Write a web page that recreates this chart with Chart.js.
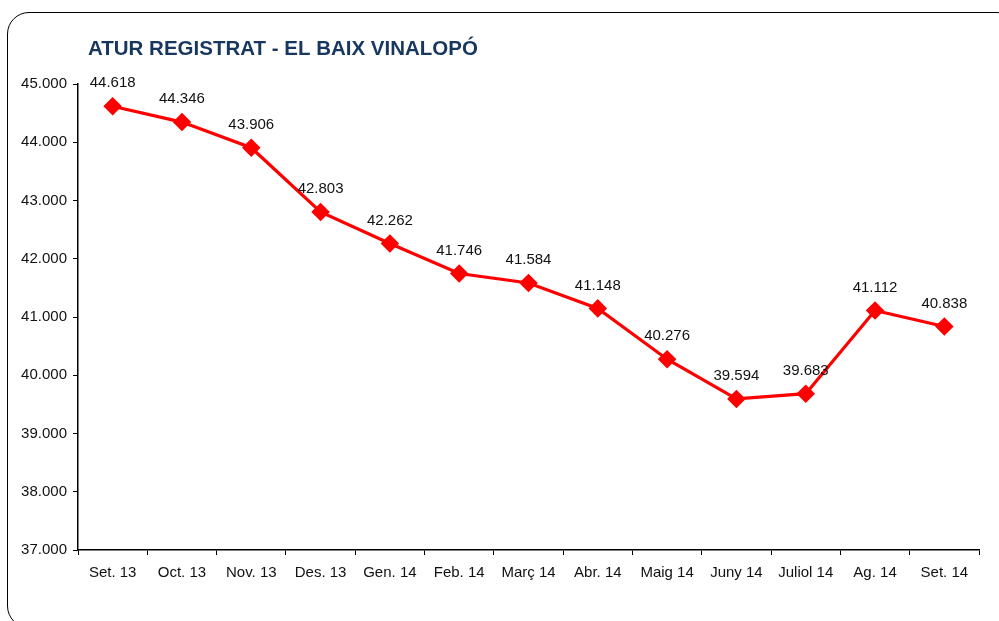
<!DOCTYPE html>
<html>
<head>
<meta charset="utf-8">
<script src="https://cdn.jsdelivr.net/npm/chart.js@4/dist/chart.umd.min.js"></script>
<style>
  html, body { margin: 0; padding: 0; background: #fff; overflow: hidden; }
  #wrap { position: relative; width: 999px; height: 621px; overflow: hidden; }
  #frame {
    position: absolute; left: 7px; top: 12px; width: 1012px; height: 616px;
    border: 1.5px solid #000; border-radius: 22px; box-sizing: border-box;
  }
  #c { position: absolute; left: 0; top: 0; }
</style>
</head>
<body>
<div id="wrap">
  <div id="frame"></div>
  <canvas id="c" width="999" height="621"></canvas>
</div>
<script>
// Monthly registered unemployment, El Baix Vinalopó
const titleText = 'ATUR REGISTRAT - EL BAIX VINALOPÓ';
const months = ['Set. 13', 'Oct. 13', 'Nov. 13', 'Des. 13', 'Gen. 14', 'Feb. 14', 'Març 14',
                'Abr. 14', 'Maig 14', 'Juny 14', 'Juliol 14', 'Ag. 14', 'Set. 14'];
const unemployed = [44618, 44346, 43906, 42803, 42262, 41746, 41584, 41148, 40276, 39594, 39683, 41112, 40838];
const yMin = 37000;
const yMax = 45000;
const yStep = 1000;

const FONT = 'Arial, "Liberation Sans", sans-serif';

// Thousands with a dot, e.g. 44.618
function fmt(v) {
  return String(Math.round(v)).replace(/\B(?=(\d{3})+(?!\d))/g, '.');
}

const titlePlugin = {
  id: 'boxTitle',
  afterDraw(chart) {
    const ctx = chart.ctx;
    ctx.save();
    ctx.font = 'bold 20.5px ' + FONT;
    ctx.fillStyle = '#17375E';
    ctx.textAlign = 'left';
    ctx.textBaseline = 'middle';
    ctx.fillText(titleText, 88, 49);
    ctx.restore();
  }
};

const valueLabels = {
  id: 'valueLabels',
  afterDatasetsDraw(chart) {
    const ctx = chart.ctx;
    const ds = chart.data.datasets[0];
    const meta = chart.getDatasetMeta(0);
    ctx.save();
    ctx.font = '15px ' + FONT;
    ctx.fillStyle = '#111';
    ctx.textAlign = 'center';
    ctx.textBaseline = 'middle';
    meta.data.forEach((pt, i) => {
      ctx.fillText(fmt(ds.data[i]), pt.x, pt.y - 23);
    });
    ctx.restore();
  }
};

new Chart(document.getElementById('c'), {
  type: 'line',
  data: {
    labels: months,
    datasets: [{
      data: unemployed,
      borderColor: '#FF0000',
      backgroundColor: '#FF0000',
      borderWidth: 3.2,
      pointStyle: 'rectRot',
      pointRadius: 7,
      pointHoverRadius: 7,
      pointBackgroundColor: '#FF0000',
      pointBorderColor: '#FF0000',
      tension: 0,
      clip: false
    }]
  },
  options: {
    responsive: false,
    animation: false,
    events: [],
    layout: { padding: { top: 84, right: 20, left: 0, bottom: 0 } },
    plugins: {
      legend: { display: false },
      title: { display: false },
      tooltip: { enabled: false }
    },
    scales: {
      x: {
        offset: true,
        grid: { offset: true, drawOnChartArea: false, drawTicks: true, tickLength: 5, color: '#000', lineWidth: 1 },
        border: { display: true, color: '#000', width: 1.5 },
        ticks: { color: '#111', font: { family: FONT, size: 15 }, padding: 9, maxRotation: 0, autoSkip: false },
        afterFit(scale) { scale.height = 71; }
      },
      y: {
        min: yMin,
        max: yMax,
        grid: { drawOnChartArea: false, drawTicks: true, tickLength: 5, color: '#000', lineWidth: 1 },
        border: { display: true, color: '#000', width: 1.5 },
        ticks: {
          stepSize: yStep,
          color: '#111',
          font: { family: FONT, size: 15 },
          padding: 6,
          callback: (v) => fmt(v)
        },
        afterFit(scale) { scale.width = 78; }
      }
    }
  },
  plugins: [titlePlugin, valueLabels]
});
</script>
</body>
</html>
